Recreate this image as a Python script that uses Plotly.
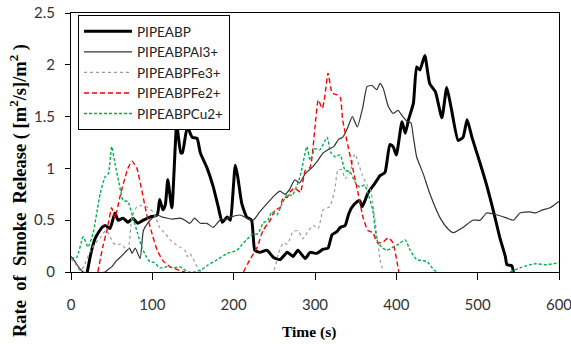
import plotly.graph_objects as go

# ---------------- data ----------------
X_TICKS = [0, 100, 200, 300, 400, 500, 600]
Y_TICKS = [0, 0.5, 1, 1.5, 2, 2.5]

NAMES = ["PIPEABP", "PIPEABPAl3+", "PIPEABPFe3+", "PIPEABPFe2+", "PIPEABPCu2+"]

ABP_T = [20, 25, 30, 38, 42, 48, 54, 58, 64, 70, 76, 82, 89, 97, 106, 109, 113, 116, 119, 124,
         130, 135, 137, 143, 149, 155, 159, 167, 175, 181, 186, 192, 196, 199, 202, 205, 210, 216, 222, 226,
         232, 241, 249, 257, 266, 273, 279, 288, 294, 302, 310, 316, 321, 327, 331, 337, 341, 345, 352, 355,
         358, 362, 365, 374, 380, 386, 392, 396, 400, 407, 411, 415, 421, 425, 429, 435, 441, 448, 456, 462,
         468, 476, 482, 487, 493, 503, 511, 519, 527, 534, 536, 542, 544]
ABP_V = [0.0, 0.2, 0.33, 0.43, 0.45, 0.42, 0.57, 0.5, 0.52, 0.48, 0.52, 0.47, 0.5, 0.53, 0.55, 0.7, 0.6, 0.65, 0.89, 0.62,
         1.42, 1.15, 1.15, 1.4, 1.3, 1.29, 1.15, 1.01, 0.82, 0.63, 0.48, 0.53, 0.5, 0.75, 1.03, 0.92, 0.66, 0.53, 0.5, 0.21,
         0.19, 0.21, 0.14, 0.12, 0.19, 0.15, 0.21, 0.13, 0.19, 0.18, 0.22, 0.23, 0.36, 0.39, 0.43, 0.45, 0.55, 0.62, 0.68, 0.69,
         0.63, 0.7, 0.76, 0.86, 0.93, 0.96, 1.23, 1.21, 1.13, 1.45, 1.34, 1.47, 1.63, 1.98, 1.95, 2.09, 1.82, 1.74, 1.49, 1.78,
         1.56, 1.27, 1.3, 1.47, 1.3, 1.05, 0.84, 0.6, 0.34, 0.15, 0.07, 0.06, 0.0]

AL_T = [0, 5, 10, 15, 42, 45, 50, 56, 63, 69, 72, 75, 79, 85, 89, 95, 100, 106, 112, 118,
        125, 134, 140, 146, 152, 159, 167, 175, 183, 190, 196, 208, 216, 224, 232, 241, 249, 257, 263, 269,
        275, 281, 288, 294, 302, 310, 316, 323, 329, 334, 339, 346, 352, 359, 364, 370, 376, 380, 384, 390,
        396, 402, 408, 414, 418, 421, 425, 433, 441, 454, 463, 470, 482, 494, 503, 511, 524, 536, 544, 552,
        564, 571, 580, 589, 600]
AL_V = [0.15, 0.1, 0.04, 0.0, 0.0, 0.02, 0.05, 0.11, 0.16, 0.21, 0.23, 0.18, 0.23, 0.13, 0.4, 0.48, 0.52, 0.55, 0.53, 0.52,
        0.51, 0.52, 0.5, 0.47, 0.52, 0.47, 0.47, 0.43, 0.5, 0.51, 0.53, 0.55, 0.52, 0.5, 0.58, 0.66, 0.73, 0.78, 0.75, 0.8,
        0.89, 0.86, 0.95, 0.99, 1.06, 1.15, 1.18, 1.21, 1.28, 1.3, 1.37, 1.5, 1.4, 1.6, 1.79, 1.8, 1.76, 1.82, 1.77, 1.6,
        1.53, 1.56, 1.5, 1.45, 1.44, 1.3, 1.11, 0.95, 0.76, 0.52, 0.42, 0.38, 0.43, 0.5, 0.5, 0.57, 0.55, 0.52, 0.5, 0.57,
        0.58, 0.57, 0.6, 0.62, 0.68]

FE3_T = [0, 6, 11, 16, 23, 30, 36, 40, 44, 48, 52, 56, 60, 64, 70, 75, 81, 87, 93, 101,
         109, 116, 122, 128, 134, 140, 143, 146, 150, 155, 160, 248, 255, 261, 266, 273, 279, 285, 292, 298,
         304, 310, 318, 324, 328, 333, 337, 343, 349, 353, 358, 364, 368, 371, 376, 380, 384]
FE3_V = [0.13, 0.07, 0.01, 0.06, 0.19, 0.28, 0.33, 0.38, 0.4, 0.34, 0.28, 0.26, 0.27, 0.25, 0.21, 0.53, 0.63, 0.64, 0.63, 0.58,
         0.43, 0.37, 0.31, 0.27, 0.24, 0.21, 0.15, 0.18, 0.13, 0.05, 0.0, 0.0, 0.18, 0.28, 0.27, 0.39, 0.4, 0.32, 0.4, 0.45,
         0.42, 0.6, 0.63, 0.78, 0.98, 0.99, 0.9, 0.96, 1.14, 1.06, 0.94, 0.84, 0.8, 0.67, 0.36, 0.12, 0.0]

FE2_T = [33, 39, 45, 50, 54, 60, 66, 70, 75, 81, 87, 93, 100, 106, 113, 122, 132, 140, None,
         212, 220, 229, 236, 245, 251, 257, 261, 266, 269, 275, 282, 288, 294, 300, 304, 309, 312, 316, 321,
         327, 331, 334, 341, 347, 353, 359, 365, 371, 377, 384, 390, 396, 401, 403]
FE2_V = [0.0, 0.24, 0.43, 0.62, 0.52, 0.72, 0.9, 1.0, 1.07, 1.0, 0.79, 0.56, 0.36, 0.21, 0.11, 0.05, 0.02, 0.0, None,
         0.0, 0.12, 0.24, 0.4, 0.5, 0.6, 0.62, 0.72, 0.72, 0.77, 0.81, 0.77, 0.98, 1.01, 1.4, 1.66, 1.58, 1.69, 1.92, 1.73,
         1.71, 1.69, 1.47, 1.2, 0.98, 0.76, 0.53, 0.4, 0.38, 0.28, 0.29, 0.33, 0.28, 0.09, 0.0]

CU_T = [0, 7, 15, 21, 27, 36, 42, 46, 50, 54, 60, 64, 70, 76, 82, 87, 93, 97, 103, 109,
        118, 126, 134, 144, 152, 160, 169, 180, 192, 204, 212, 216, 222, 230, 236, 242, 247, 253, 259, 266,
        272, 278, 282, 290, 294, 300, 306, 315, 319, 325, 331, 337, 343, 349, 355, 361, 365, 371, 376, 382,
        388, 396, 401, 411, 417, 425, 438, 446, 451, None, 540, 552, 560, 571, 585, 600]
CU_V = [0.14, 0.14, 0.34, 0.24, 0.37, 0.76, 0.92, 0.95, 1.21, 1.05, 0.82, 0.69, 0.68, 0.53, 0.37, 0.24, 0.14, 0.1, 0.09, 0.04,
        0.05, 0.04, 0.05, 0.0, 0.0, 0.02, 0.07, 0.12, 0.18, 0.21, 0.28, 0.31, 0.36, 0.37, 0.47, 0.5, 0.58, 0.55, 0.65, 0.75,
        0.74, 0.84, 0.93, 1.21, 1.08, 1.19, 1.18, 1.3, 1.16, 1.11, 1.13, 0.98, 0.97, 0.87, 0.82, 0.84, 0.76, 0.6, 0.31, 0.24,
        0.21, 0.24, 0.26, 0.31, 0.21, 0.12, 0.1, 0.02, 0.0, None, 0.0, 0.04, 0.06, 0.08, 0.07, 0.09]

SERIES = [(ABP_T, ABP_V), (AL_T, AL_V), (FE3_T, FE3_V), (FE2_T, FE2_V), (CU_T, CU_V)]
for t, v in SERIES:
    assert len(t) == len(v), (len(t), len(v))

# ---------------- styles ----------------
STYLES = [
    dict(color="#000000", width=3.0, dash="solid"),
    dict(color="#333333", width=1.2, dash="solid"),
    dict(color="#9a9a9a", width=1.2, dash="dot"),
    dict(color="#ff0000", width=1.4, dash="5px,3px"),
    dict(color="#00b050", width=1.4, dash="3px,2px"),
]

fig = go.Figure()
for name, (t, v), st in zip(NAMES, SERIES, STYLES):
    fig.add_trace(go.Scatter(x=t, y=v, mode="lines", name=name,
                             line=dict(shape="spline", smoothing=0.5, **st),
                             connectgaps=False))

W, H = 571, 344
L, R, T, B = 71, 12, 13, 72
pw, ph = W - L - R, H - T - B

def px_to_paper(x, y):
    return (x - L) / pw, 1 - (y - T) / ph

axis_common = dict(showline=True, linecolor="black", linewidth=1, mirror=True,
                   ticks="outside", tickcolor="black", tickwidth=1,
                   showgrid=False, zeroline=False, automargin=False,
                   ticklabeloverflow="allow",
                   tickfont=dict(family="Lato", size=15, color="#333333"))

lx, ly = px_to_paper(78, 15)
fig.update_layout(
    width=W, height=H,
    margin=dict(l=L, r=R, t=T, b=B, pad=0, autoexpand=False),
    paper_bgcolor="white", plot_bgcolor="white",
    xaxis=dict(range=[0, 600], tickvals=X_TICKS, ticklen=7, ticklabelstandoff=12, **axis_common),
    yaxis=dict(range=[0, 2.5], tickvals=Y_TICKS, ticktext=[f"{v:g}" for v in Y_TICKS],
               ticklen=5, ticklabelstandoff=7, **axis_common),
    showlegend=True,
    legend=dict(x=lx, y=ly, xanchor="left", yanchor="top",
                bgcolor="white", bordercolor="black", borderwidth=1,
                font=dict(family="Lato", size=13.5, color="#222222"),
                itemwidth=48),
)

yx, yy = px_to_paper(18, 191)
xx, xy = px_to_paper(309, 332)
fig.add_annotation(text="<b>Rate\u00a0 of\u00a0 Smoke\u00a0 Release ( [m<sup>2</sup>/s]/m<sup>2</sup> )</b>",
                   xref="paper", yref="paper", x=yx, y=yy, xanchor="center", yanchor="middle",
                   textangle=-90, showarrow=False,
                   font=dict(family="Liberation Serif", size=18.5, color="black"))
fig.add_annotation(text="<b>Time (s)</b>", xref="paper", yref="paper", x=xx, y=xy,
                   xanchor="center", yanchor="middle", showarrow=False,
                   font=dict(family="Liberation Serif", size=15.5, color="black"))

fig.write_html("out.html")
